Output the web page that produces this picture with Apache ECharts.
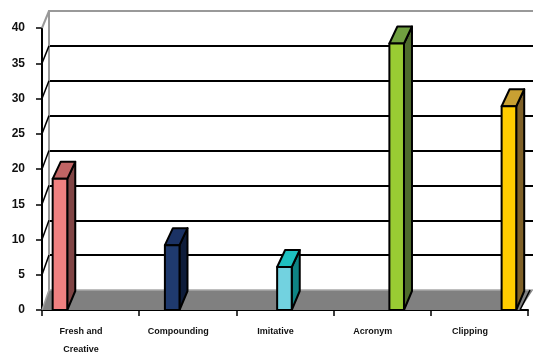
<!DOCTYPE html>
<html><head><meta charset="utf-8">
<script src="https://cdn.jsdelivr.net/npm/echarts@6/dist/echarts.min.js"></script>
<style>html,body{margin:0;padding:0;background:#fff}#c{width:533px;height:352px}</style>
</head><body><div id="c"></div>
<script>
// ---- data ----
const categories = ['Fresh and\nCreative', 'Compounding', 'Imitative', 'Acronym', 'Clipping'];
const values = [18.6, 9.2, 6.1, 37.8, 28.9];
const yTickValues = [0, 5, 10, 15, 20, 25, 30, 35, 40];

// ---- styles ----
const frontColors = ['#F08080', '#1F3A6E', '#72D2E0', '#99CC33', '#FFCC00'];
const topColors   = ['#C06464', '#1B3264', '#1EC0C0', '#70A040', '#C8A032'];
const sideColors  = ['#804444', '#0E1C3A', '#0E8484', '#4E6B2C', '#7F6128'];

const chart = echarts.init(document.getElementById('c'), null, {renderer: 'canvas'});

function renderFloor(params, api) {
  const bl = api.coord([0, 0]);
  const br = api.coord([1, 0]);
  return {
    type: 'group',
    children: [
      {type: 'polygon', shape: {points: [[bl[0] - 7, bl[1] + 20], bl, br, [br[0] - 13, br[1] + 20]]},
       style: {fill: '#808080', stroke: null}},
      {type: 'line', shape: {x1: bl[0], y1: bl[1], x2: br[0], y2: br[1]}, style: {stroke: '#a8a8a8', lineWidth: 1.5}},
      {type: 'line', shape: {x1: bl[0] - 7, y1: bl[1] + 20, x2: bl[0], y2: bl[1]}, style: {stroke: '#a0a0a0', lineWidth: 1.5}},
      {type: 'line', shape: {x1: br[0] - 13, y1: br[1] + 20, x2: br[0] - 3, y2: br[1]}, style: {stroke: '#000', lineWidth: 1.5}}
    ]
  };
}

function renderBar(params, api) {
  const i = api.value(0), v = api.value(1);
  const base = api.coord([i, 0]);
  const top = api.coord([i, v]);
  const hw = 7.3, dx = 8, dy = -17;
  const xl = base[0] - hw, xr = base[0] + hw, yb = base[1], yt = top[1];
  const s = {stroke: '#000', lineWidth: 2, lineJoin: 'round'};
  return {
    type: 'group',
    children: [
      {type: 'polygon', shape: {points: [[xr, yt], [xr + dx, yt + dy], [xr + dx, yb - 19], [xr, yb]]},
       style: Object.assign({fill: sideColors[i]}, s)},
      {type: 'polygon', shape: {points: [[xl, yt], [xl + dx, yt + dy], [xr + dx, yt + dy], [xr, yt]]},
       style: Object.assign({fill: topColors[i]}, s)},
      {type: 'rect', shape: {x: xl, y: yt, width: 2 * hw, height: yb - yt},
       style: Object.assign({fill: frontColors[i]}, s)}
    ]
  };
}

const option = {
  animation: false,
  backgroundColor: '#fff',
  grid: [
    {left: 49, top: 11, right: 0, bottom: 62, outerBoundsMode: 'none', containLabel: false},
    {left: 42, top: 28, right: 5, bottom: 42, outerBoundsMode: 'none', containLabel: false}
  ],
  xAxis: [
    {gridIndex: 0, type: 'value', min: 0, max: 1, position: 'top',
     axisLine: {show: true, onZero: false, lineStyle: {color: '#999', width: 2}},
     axisTick: {show: false}, axisLabel: {show: false}, splitLine: {show: false}},
    {gridIndex: 1, type: 'category', data: categories, position: 'bottom',
     axisLine: {show: true, onZero: false, lineStyle: {color: '#000', width: 2}},
     axisTick: {show: true, length: 6, lineStyle: {color: '#000', width: 1.5}},
     axisLabel: {fontFamily: 'Liberation Sans', fontWeight: 'bold', fontSize: 9, color: '#111',
                 lineHeight: 18, margin: 13, padding: [0, 19, 0, 0], interval: 0},
     splitLine: {show: false}},
    {gridIndex: 1, type: 'value', min: -0.16, max: 4.17, show: false,
     axisLine: {onZero: false}, splitLine: {show: false}}
  ],
  yAxis: [
    {gridIndex: 0, type: 'value', min: 0, max: 40, interval: 5,
     axisLine: {show: true, onZero: false, lineStyle: {color: '#999', width: 2}},
     axisTick: {show: false}, axisLabel: {show: false},
     splitLine: {show: true, showMinLine: false, showMaxLine: false, lineStyle: {color: '#000', width: 2}}},
    {gridIndex: 1, type: 'value', min: 0, max: 40, interval: 5,
     axisLine: {show: true, onZero: false, lineStyle: {color: '#000', width: 2}},
     axisTick: {show: true, length: 6, lineStyle: {color: '#000', width: 1.5}},
     axisLabel: {fontFamily: 'Liberation Sans', fontWeight: 'bold', fontSize: 12, color: '#111', margin: 17},
     splitLine: {show: false}}
  ],
  series: [
    {type: 'custom', xAxisIndex: 0, yAxisIndex: 0, data: [[0]], renderItem: renderFloor, clip: false, silent: true, z: 1},
    {type: 'custom', xAxisIndex: 2, yAxisIndex: 1, data: values.map((v, i) => [i, v]),
     renderItem: renderBar, clip: false, z: 3}
  ]
};
chart.setOption(option);

// side-wall connectors from front ticks to back wall gridlines
const fx = chart.convertToPixel({xAxisIndex: 2}, -0.16);
const bx = chart.convertToPixel({xAxisIndex: 0}, 0);
const connectors = yTickValues.filter(v => v > 0).map(v => {
  const fy = chart.convertToPixel({yAxisIndex: 1}, v);
  const by = chart.convertToPixel({yAxisIndex: 0}, v);
  return {type: 'line', shape: {x1: fx, y1: fy, x2: bx, y2: by},
          style: {stroke: v === 40 ? '#999' : '#000', lineWidth: v === 40 ? 2 : 1.5}, z: 5};
});
chart.setOption({graphic: connectors});
</script>
</body></html>
